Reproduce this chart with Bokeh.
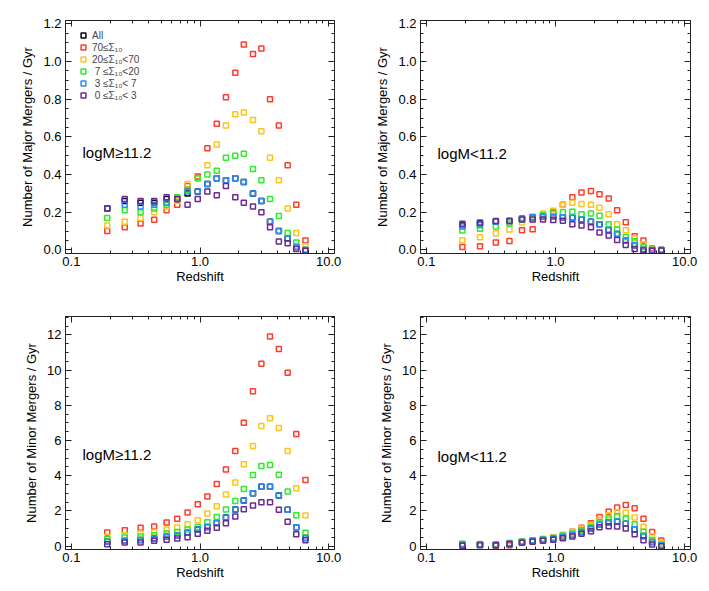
from bokeh.plotting import figure
from bokeh.models import (LogAxis, LinearAxis, Legend, LegendItem, Label,
                          SingleIntervalTicker, FixedTicker, PrintfTickFormatter,
                          Range1d, ColumnDataSource)
from bokeh.layouts import column, row
from bokeh.embed import file_html
from bokeh.resources import INLINE

# ---------------- data ----------------
redshift = [0.19, 0.26, 0.345, 0.44, 0.55, 0.665, 0.80, 0.96, 1.14, 1.35,
            1.59, 1.88, 2.19, 2.58, 3.0, 3.5, 4.1, 4.8, 5.6, 6.6]

series_names = ["All", "70≤Σ₁₀", "20≤Σ₁₀<70", " 7 ≤Σ₁₀<20", " 3 ≤Σ₁₀< 7", " 0 ≤Σ₁₀< 3"]
series_colors = ["#000000", "#ff3b2b", "#ffc41a", "#2cec2c", "#2a8cff", "#6a2a94"]

# Major mergers, logM >= 11.2
major_hi_all    = [0.22, 0.26, 0.25, 0.25, 0.27, 0.27, 0.30, 0.31, 0.35, 0.38, 0.37, 0.38, 0.36, 0.30, 0.26, 0.15, 0.10, 0.06, 0.015, 0.0]
major_hi_d70    = [0.10, 0.12, 0.14, 0.16, 0.21, 0.24, 0.34, 0.39, 0.54, 0.67, 0.81, 0.94, 1.09, 1.04, 1.07, 0.80, 0.66, 0.45, 0.24, 0.05]
major_hi_d20    = [0.13, 0.15, 0.17, 0.20, 0.23, 0.26, 0.35, 0.38, 0.45, 0.56, 0.66, 0.72, 0.73, 0.69, 0.63, 0.49, 0.37, 0.22, 0.09, 0.02]
major_hi_d7     = [0.17, 0.21, 0.20, 0.22, 0.24, 0.28, 0.32, 0.38, 0.40, 0.42, 0.49, 0.50, 0.51, 0.43, 0.37, 0.27, 0.18, 0.09, 0.04, 0.0]
major_hi_d3     = [0.22, 0.24, 0.23, 0.24, 0.25, 0.27, 0.31, 0.31, 0.35, 0.38, 0.37, 0.38, 0.36, 0.30, 0.26, 0.15, 0.10, 0.06, 0.015, 0.0]
major_hi_d0     = [0.22, 0.27, 0.26, 0.26, 0.28, 0.27, 0.24, 0.27, 0.31, 0.29, 0.34, 0.28, 0.25, 0.23, 0.20, 0.12, 0.045, 0.035, 0.005, -0.005]

# Major mergers, logM < 11.2
major_lo_all    = [0.13, 0.14, 0.15, 0.153, 0.165, 0.173, 0.176, 0.176, 0.173, 0.171, 0.162, 0.15, 0.136, 0.106, 0.085, 0.049, 0.025, 0.002, 0.0, 0.0]
major_lo_d70    = [0.015, 0.02, 0.04, 0.047, 0.105, 0.11, 0.175, 0.195, 0.24, 0.28, 0.305, 0.313, 0.295, 0.273, 0.21, 0.147, 0.072, 0.05, 0.008, 0.0]
major_lo_d20    = [0.052, 0.067, 0.088, 0.108, 0.145, 0.162, 0.194, 0.208, 0.238, 0.25, 0.244, 0.24, 0.224, 0.19, 0.136, 0.104, 0.062, 0.03, 0.002, 0.0]
major_lo_d7     = [0.103, 0.113, 0.124, 0.14, 0.162, 0.176, 0.185, 0.2, 0.2, 0.203, 0.19, 0.194, 0.182, 0.136, 0.108, 0.069, 0.046, 0.014, 0.0, 0.0]
major_lo_d3     = [0.124, 0.132, 0.15, 0.153, 0.165, 0.173, 0.176, 0.176, 0.173, 0.171, 0.162, 0.15, 0.136, 0.106, 0.085, 0.049, 0.025, 0.002, 0.0, 0.0]
major_lo_d0     = [0.139, 0.145, 0.153, 0.153, 0.162, 0.162, 0.162, 0.159, 0.155, 0.136, 0.129, 0.12, 0.092, 0.076, 0.053, 0.026, 0.005, -0.003, -0.005, -0.003]

# Minor mergers, logM >= 11.2
minor_hi_all    = [0.25, 0.30, 0.35, 0.44, 0.53, 0.62, 0.76, 0.94, 1.09, 1.32, 1.62, 2.08, 2.59, 3.00, 3.38, 3.38, 2.87, 2.06, 1.08, 0.47]
minor_hi_d70    = [0.78, 0.91, 1.04, 1.11, 1.34, 1.55, 1.91, 2.38, 2.82, 3.53, 4.35, 5.40, 7.01, 8.80, 10.36, 11.90, 11.19, 9.85, 6.37, 3.76]
minor_hi_d20    = [0.53, 0.62, 0.72, 0.81, 0.94, 1.06, 1.25, 1.47, 1.85, 2.27, 2.93, 3.61, 4.65, 5.69, 6.82, 7.26, 6.71, 5.40, 3.29, 1.74]
minor_hi_d7     = [0.40, 0.49, 0.55, 0.62, 0.72, 0.81, 0.94, 1.09, 1.36, 1.66, 2.08, 2.57, 3.25, 4.04, 4.55, 4.61, 4.06, 3.10, 1.76, 0.76]
minor_hi_d3     = [0.25, 0.30, 0.35, 0.44, 0.53, 0.62, 0.76, 0.94, 1.09, 1.32, 1.62, 2.08, 2.59, 3.00, 3.38, 3.38, 2.87, 2.06, 1.08, 0.47]
minor_hi_d0     = [0.11, 0.21, 0.21, 0.30, 0.36, 0.44, 0.51, 0.70, 0.87, 1.04, 1.30, 1.68, 2.10, 2.31, 2.49, 2.49, 2.06, 1.38, 0.68, 0.34]

# Minor mergers, logM < 11.2
minor_lo_all    = [0.10, 0.10, 0.08, 0.15, 0.24, 0.30, 0.36, 0.43, 0.52, 0.63, 0.80, 1.00, 1.22, 1.36, 1.40, 1.27, 0.96, 0.58, 0.23, 0.05]
minor_lo_d70    = [0.08, 0.08, 0.03, 0.05, 0.22, 0.30, 0.38, 0.48, 0.62, 0.82, 1.05, 1.30, 1.65, 1.96, 2.20, 2.34, 2.15, 1.55, 0.80, 0.32]
minor_lo_d20    = [0.12, 0.10, 0.10, 0.16, 0.27, 0.32, 0.40, 0.50, 0.65, 0.80, 1.00, 1.20, 1.50, 1.76, 1.93, 1.90, 1.62, 1.10, 0.56, 0.20]
minor_lo_d7     = [0.13, 0.12, 0.10, 0.18, 0.27, 0.33, 0.40, 0.48, 0.60, 0.72, 0.90, 1.10, 1.35, 1.57, 1.71, 1.55, 1.25, 0.82, 0.35, 0.10]
minor_lo_d3     = [0.10, 0.10, 0.08, 0.15, 0.24, 0.30, 0.36, 0.43, 0.52, 0.63, 0.80, 1.00, 1.22, 1.36, 1.40, 1.27, 0.96, 0.58, 0.23, 0.05]
minor_lo_d0     = [0.02, 0.05, 0.05, 0.12, 0.20, 0.25, 0.30, 0.36, 0.45, 0.55, 0.70, 0.85, 1.07, 1.13, 1.12, 1.00, 0.68, 0.33, 0.09, 0.00]

x_major_ticks = [0.1, 1.0, 10.0]
x_minor_ticks = [m * d for d in (0.1, 1.0) for m in range(2, 10)]

FONT = "Liberation Sans"
AX = "#222222"


def style_axis(ax, show_labels=True):
    ax.axis_line_color = AX
    ax.major_tick_line_color = AX
    ax.minor_tick_line_color = AX
    ax.major_tick_in = 6
    ax.major_tick_out = 0
    ax.minor_tick_in = 3
    ax.minor_tick_out = 0
    ax.major_label_text_font = FONT
    ax.major_label_text_color = "black"
    ax.axis_label_text_font = FONT
    ax.axis_label_text_font_style = "normal"
    ax.axis_label_text_color = "black"
    if not show_labels:
        ax.major_label_text_font_size = "1px"
        ax.major_label_text_alpha = 0
        ax.major_label_standoff = 0


def make_panel(series, ylabel, yrange, yinterval, yfmt, tag, width, height,
               left, right, top, bottom, legend=False):
    p = figure(width=width, height=height, x_axis_type="log",
               x_range=Range1d(0.09, 11.1), y_range=Range1d(*yrange),
               output_backend="svg", toolbar_location=None,
               min_border_left=left, min_border_right=right,
               min_border_top=top, min_border_bottom=bottom)
    p.grid.visible = False
    p.outline_line_color = AX
    p.background_fill_color = "white"
    p.border_fill_color = "white"

    xt = FixedTicker(ticks=x_major_ticks, minor_ticks=x_minor_ticks)
    yt = SingleIntervalTicker(interval=yinterval, num_minor_ticks=4)

    xa = p.xaxis[0]
    xa.ticker = xt
    xa.formatter = PrintfTickFormatter(format="%.1f")
    xa.axis_label = "Redshift"
    style_axis(xa)
    xa.major_label_text_font_size = "13px"
    xa.axis_label_text_font_size = "13px"
    xa.major_label_standoff = 3
    xa.axis_label_standoff = 0

    ya = p.yaxis[0]
    ya.ticker = yt
    ya.formatter = PrintfTickFormatter(format=yfmt)
    ya.axis_label = ylabel
    style_axis(ya)
    ya.major_label_text_font_size = "13px"
    ya.axis_label_text_font_size = "13px"
    ya.major_label_standoff = 4
    ya.axis_label_standoff = 5

    top_ax = LogAxis(ticker=xt)
    style_axis(top_ax, show_labels=False)
    p.add_layout(top_ax, "above")
    right_ax = LinearAxis(ticker=yt)
    style_axis(right_ax, show_labels=False)
    p.add_layout(right_ax, "right")

    items = []
    for name, color, vals in zip(series_names, series_colors, series):
        src = ColumnDataSource(dict(z=redshift, rate=vals))
        r = p.scatter("z", "rate", source=src, marker="square", size=5,
                      fill_color=None, line_color=color, line_width=1.5)
        items.append(LegendItem(label=name, renderers=[r]))

    if legend:
        lg = Legend(items=items, location=(12, 152), orientation="vertical",
                    border_line_alpha=0, background_fill_alpha=0,
                    label_text_font=FONT, label_text_font_size="10px",
                    glyph_width=12, glyph_height=12, label_height=12,
                    label_standoff=3, spacing=0, padding=0, margin=0)
        p.add_layout(lg)

    p.add_layout(Label(x=17, y=tag[1], x_units="screen", y_units="screen",
                       text=tag[0], text_font=FONT, text_font_size="15px",
                       text_baseline="middle", text_color="black"))
    return p


p1 = make_panel([major_hi_all, major_hi_d70, major_hi_d20, major_hi_d7, major_hi_d3, major_hi_d0],
                "Number of Major Mergers / Gyr", (-0.019, 1.218), 0.2, "%.1f",
                ("logM≥11.2", 101), 363, 304, 65, 29, 20, 51, legend=True)
p2 = make_panel([major_lo_all, major_lo_d70, major_lo_d20, major_lo_d7, major_lo_d3, major_lo_d0],
                "Number of Major Mergers / Gyr", (-0.019, 1.218), 0.2, "%.1f",
                ("logM<11.2", 100), 339, 304, 57, 12, 20, 51)
p3 = make_panel([minor_hi_all, minor_hi_d70, minor_hi_d20, minor_hi_d7, minor_hi_d3, minor_hi_d0],
                "Number of Minor Mergers / Gyr", (-0.19, 13.04), 2, "%d",
                ("logM≥11.2", 95), 363, 281, 65, 29, 12, 36)
p4 = make_panel([minor_lo_all, minor_lo_d70, minor_lo_d20, minor_lo_d7, minor_lo_d3, minor_lo_d0],
                "Number of Minor Mergers / Gyr", (-0.19, 13.04), 2, "%d",
                ("logM<11.2", 93), 339, 281, 57, 12, 12, 36)

layout = column(row(p1, p2), row(p3, p4))

with open("out.html", "w") as f:
    f.write(file_html(layout, INLINE))
